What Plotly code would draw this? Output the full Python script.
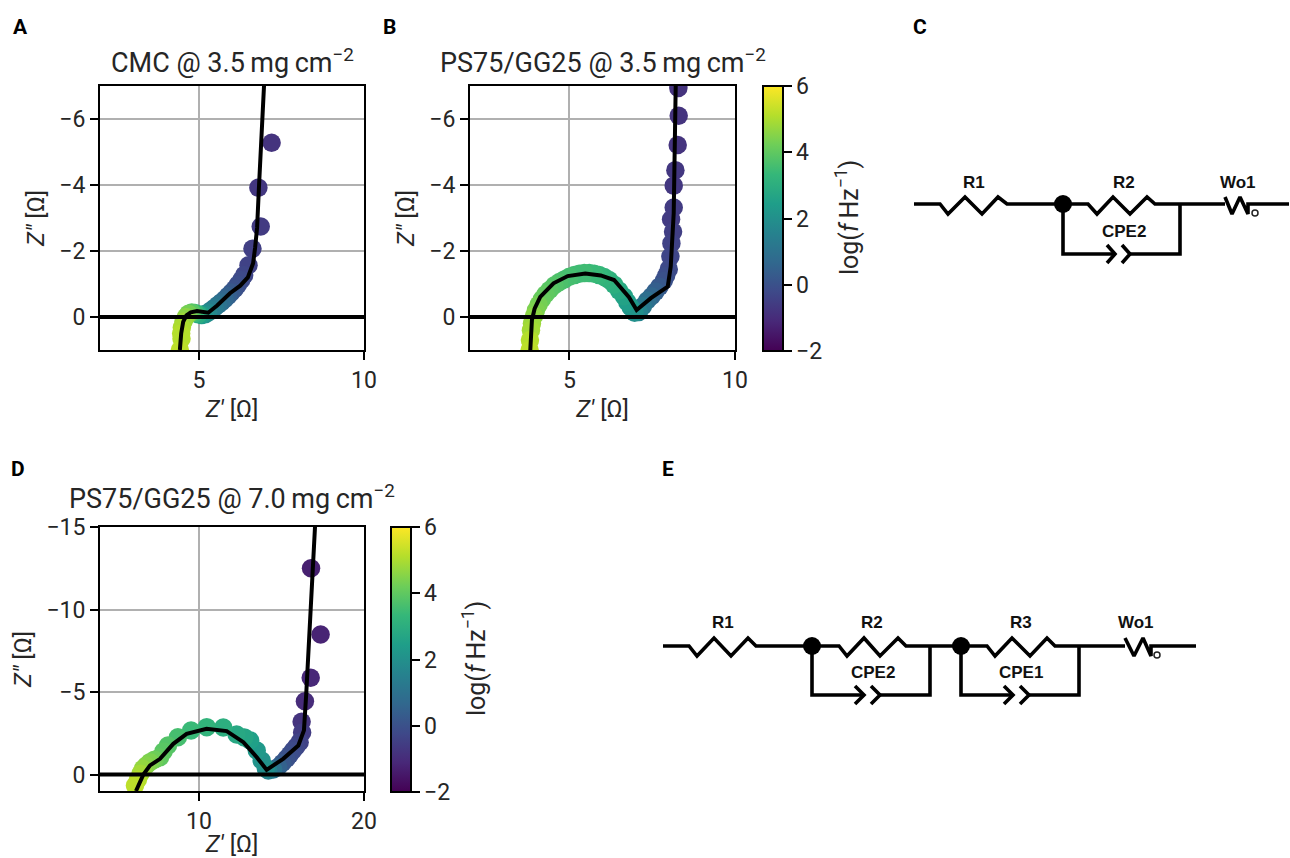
import plotly.graph_objects as go

# ---------- Panel A ----------
a_x = [7.20, 6.80, 6.87, 6.62, 6.50, 6.37, 6.28, 6.18, 6.08, 5.98, 5.88, 5.78, 5.68, 5.58, 5.48, 5.38, 5.28, 5.18, 5.08, 4.98, 4.88, 4.78, 4.68, 4.60, 4.53, 4.48, 4.46, 4.47, 4.42]
a_y = [-5.28, -3.92, -2.74, -2.07, -1.57, -1.27, -1.12, -0.98, -0.85, -0.74, -0.64, -0.54, -0.45, -0.37, -0.29, -0.21, -0.14, -0.08, -0.06, -0.08, -0.12, -0.14, -0.10, 0.00, 0.14, 0.32, 0.50, 0.66, 1.00]
a_c = [-0.8, -0.7, -0.6, -0.5, -0.4, -0.3, -0.2, -0.1, 0.0, 0.2, 0.4, 0.6, 0.8, 1.0, 1.2, 1.4, 1.7, 2.0, 2.4, 2.9, 3.4, 3.9, 4.3, 4.6, 4.8, 5.0, 5.1, 5.1, 5.2]
a_fit_x = [4.42, 4.46, 4.52, 4.62, 4.75, 4.94, 5.28, 5.55, 5.94, 6.25, 6.48, 6.64, 6.70, 6.76, 6.82, 6.97]
a_fit_y = [1.00, 0.50, 0.15, -0.05, -0.14, -0.18, -0.13, -0.35, -0.72, -0.95, -1.20, -1.63, -2.10, -2.70, -4.00, -7.00]

# ---------- Panel B ----------
b_x = [8.29, 8.30, 8.27, 8.20, 8.15, 8.15, 8.07, 8.13, 8.08, 8.05, 8.00, 7.92, 7.85, 7.72, 7.60, 7.48, 7.35, 7.22, 7.10, 6.97, 6.85, 6.75, 6.65, 6.50, 6.35, 6.20, 6.05, 5.90, 5.75, 5.60, 5.45, 5.30, 5.15, 5.00, 4.85, 4.70, 4.55, 4.40, 4.28, 4.17, 4.07, 3.99, 3.93, 3.87, 3.84, 3.81, 3.80]
b_y = [-6.94, -6.10, -5.21, -4.45, -3.98, -3.32, -2.96, -2.58, -2.23, -1.83, -1.45, -1.25, -1.10, -0.92, -0.77, -0.63, -0.50, -0.33, -0.15, -0.13, -0.30, -0.45, -0.62, -0.80, -0.98, -1.12, -1.21, -1.27, -1.31, -1.33, -1.33, -1.31, -1.27, -1.22, -1.14, -1.06, -0.96, -0.82, -0.69, -0.54, -0.37, -0.20, -0.03, 0.20, 0.40, 0.70, 1.00]
b_c = [-0.8, -0.8, -0.8, -0.7, -0.7, -0.6, -0.6, -0.5, -0.4, -0.3, -0.2, -0.1, 0.0, 0.2, 0.4, 0.6, 0.9, 1.2, 1.6, 2.0, 2.2, 2.4, 2.6, 2.8, 3.0, 3.1, 3.2, 3.3, 3.4, 3.4, 3.5, 3.5, 3.5, 3.6, 3.6, 3.7, 3.8, 3.9, 4.0, 4.1, 4.3, 4.4, 4.6, 4.8, 4.9, 5.1, 5.2]
b_fit_x = [3.82, 3.84, 3.87, 3.95, 4.12, 4.52, 4.95, 5.48, 5.95, 6.35, 6.80, 7.03, 7.46, 7.97, 8.06, 8.15, 8.21]
b_fit_y = [1.00, 0.50, 0.09, -0.25, -0.61, -1.02, -1.24, -1.32, -1.26, -1.12, -0.60, -0.21, -0.57, -0.92, -1.53, -3.15, -7.00]

# ---------- Panel D ----------
d_x = [16.79, 17.37, 16.77, 16.42, 16.22, 16.25, 16.10, 15.90, 15.70, 15.50, 15.30, 15.05, 14.80, 14.50, 14.20, 14.05, 13.80, 13.50, 13.10, 12.75, 12.28, 11.47, 10.47, 9.52, 8.72, 8.12, 7.85, 7.64, 7.30, 7.03, 6.80, 6.60, 6.45, 6.30, 6.12]
d_y = [-12.50, -8.48, -5.86, -4.44, -3.20, -2.55, -1.96, -1.70, -1.45, -1.20, -0.96, -0.70, -0.45, -0.30, -0.24, -0.36, -0.85, -1.45, -2.06, -2.25, -2.42, -2.85, -2.87, -2.67, -2.26, -1.76, -1.40, -1.05, -0.90, -0.75, -0.55, -0.35, -0.05, 0.30, 0.67]
d_c = [-1.3, -1.2, -1.1, -1.0, -0.8, -0.6, -0.4, -0.3, -0.2, -0.1, 0.0, 0.2, 0.5, 1.0, 1.5, 1.9, 2.1, 2.3, 2.5, 2.7, 2.8, 3.0, 3.2, 3.4, 3.6, 3.8, 3.9, 4.0, 4.2, 4.4, 4.5, 4.7, 4.9, 5.1, 5.2]
d_fit_x = [6.18, 6.63, 7.03, 7.64, 8.44, 9.25, 10.46, 11.68, 12.69, 13.50, 14.10, 15.10, 16.02, 16.36, 16.50, 16.83, 17.03]
d_fit_y = [1.00, 0.00, -0.55, -0.95, -1.86, -2.46, -2.77, -2.63, -1.96, -1.05, -0.28, -0.95, -1.76, -2.67, -4.90, -11.60, -15.00]

# ---------- Ticks and text ----------
z_ticks_ab = [-6, -4, -2, 0]
z_ticks_d = [-15, -10, -5, 0]
cbar_ticks = [-2, 0, 2, 4, 6]
titles = ["CMC @ 3.5\u2009mg\u2009cm<sup>−2</sup>", "PS75/GG25 @ 3.5\u2009mg\u2009cm<sup>−2</sup>", "PS75/GG25 @ 7.0\u2009mg\u2009cm<sup>−2</sup>"]
x_title = "<i>Z′</i> [Ω]"
y_title = "<i>Z″</i> [Ω]"
cbar_title = "log(<i>f</i>\u2009Hz<sup>−1</sup>)"

# ---------- Circuit diagrams (page pixels) ----------
c_paths = [
    ([914, 940, 948, 965, 982, 998, 1007, 1088, 1097, 1113, 1130, 1147, 1155, 1225], [204, 204, 214, 197, 214, 197, 204, 204, 214, 197, 214, 197, 204, 204]),
    ([1225, 1232, 1240, 1248, 1248, 1289], [197, 214, 197, 214, 204, 204]),
    ([1063, 1063, 1115], [204, 254, 254]),
    ([1107, 1115, 1107], [245, 254, 263]),
    ([1122, 1130, 1122], [245, 254, 263]),
    ([1130, 1180, 1180], [254, 254, 204]),
]
c_dots = ([1063], [204])
c_wo = ([1255], [213])
c_text = [("R1", 974, 182), ("R2", 1124, 182), ("Wo1", 1238, 182), ("CPE2", 1124, 232)]

e_paths = [
    ([663, 689, 697, 714, 731, 748, 756, 839, 847, 864, 880, 898, 906, 987, 995, 1012, 1030, 1047, 1055, 1125], [646, 646, 656, 638, 656, 638, 646, 646, 656, 638, 656, 638, 646, 646, 656, 638, 656, 638, 646, 646]),
    ([1125, 1134, 1143, 1151, 1151, 1196], [638, 656, 638, 656, 646, 646]),
    ([812, 812, 864], [646, 695, 695]),
    ([855, 864, 855], [686, 695, 704]),
    ([871, 880, 871], [686, 695, 704]),
    ([880, 930, 930], [695, 695, 646]),
    ([961, 961, 1013], [646, 695, 695]),
    ([1004, 1013, 1004], [686, 695, 704]),
    ([1020, 1029, 1020], [686, 695, 704]),
    ([1029, 1079, 1079], [695, 695, 646]),
]
e_dots = ([812, 961], [646, 646])
e_wo = ([1157], [655])
e_text = [("R1", 723, 622), ("R2", 872, 622), ("R3", 1021, 622), ("Wo1", 1136, 622), ("CPE2", 873, 672), ("CPE1", 1021, 672)]

panel_letters = [("A", 20, 27), ("B", 389, 27), ("C", 920, 27), ("D", 18, 469), ("E", 668, 469)]

# ---------- Layout helpers ----------
W, H = 1290, 858
def fx(p): return p / W
def fy(p): return 1 - p / H

FONT = "Roboto"
TEXT = "#262626"
TICK = 23

def cbar(x0, y0, y1):
    return dict(x=fx(x0), xanchor="left", xref="paper", y=fy(y0), yanchor="top", yref="paper",
                len=y1 - y0, lenmode="pixels", thickness=20, thicknessmode="pixels",
                tickvals=cbar_ticks, ticks="outside", ticklen=8, tickwidth=2, tickcolor="black",
                outlinecolor="black", outlinewidth=2,
                tickfont=dict(family=FONT, size=TICK, color=TEXT), xpad=0, ypad=0)

fig = go.Figure()

def panel(idx, xd, yd, xr, yr, xt, yt, mx, my, mc, fx_, fy_, cb, x_standoff=8):
    s = "" if idx == 1 else str(idx)
    fig.add_trace(go.Scatter(x=mx, y=my, mode="markers", xaxis="x" + s, yaxis="y" + s, showlegend=False,
                             marker=dict(size=18.5, color=mc, colorscale="Viridis", cmin=-2, cmax=6,
                                         line=dict(width=0), showscale=cb is not None, colorbar=cb)))
    fig.add_trace(go.Scatter(x=fx_, y=fy_, mode="lines", xaxis="x" + s, yaxis="y" + s, showlegend=False,
                             line=dict(color="black", width=4)))
    common = dict(showline=True, mirror=True, linecolor="black", linewidth=2, ticks="outside", ticklen=8,
                  tickwidth=2, tickcolor="black", showgrid=True, gridcolor="#b0b0b0", gridwidth=2,
                  zeroline=False, tickfont=dict(family=FONT, size=TICK, color=TEXT), layer="below traces")
    fig.update_layout({
        "xaxis" + s: dict(domain=[fx(xd[0]), fx(xd[1])], range=xr, tickvals=xt, anchor="y" + s,
                          title=dict(text=x_title, standoff=x_standoff, font=dict(family=FONT, size=24, color=TEXT)), **common),
        "yaxis" + s: dict(domain=[fy(yd[1]), fy(yd[0])], range=yr, tickvals=yt, anchor="x" + s,
                          title=dict(text=y_title, standoff=8, font=dict(family=FONT, size=24, color=TEXT)), **common),
    })
    fig.add_shape(type="line", xref="x" + s + " domain", yref="y" + s, x0=0, x1=1, y0=0, y1=0,
                  line=dict(color="black", width=4), layer="above")

panel(1, (100, 364), (86, 350), [2, 10], [1, -7], [5, 10], z_ticks_ab, a_x, a_y, a_c, a_fit_x, a_fit_y, None)
panel(2, (470, 735), (86, 350), [2, 10], [1, -7], [5, 10], z_ticks_ab, b_x, b_y, b_c, b_fit_x, b_fit_y, cbar(763, 86, 351))
panel(3, (100, 364), (527, 791), [4, 20], [1, -15], [10, 20], z_ticks_d, d_x, d_y, d_c, d_fit_x, d_fit_y, cbar(391, 527, 792), x_standoff=11)

# overlay axis in page pixels for diagrams and free text
def circuit(paths, dots, wo):
    for px, py in paths:
        fig.add_trace(go.Scatter(x=px, y=py, mode="lines", xaxis="x4", yaxis="y4", showlegend=False,
                                 line=dict(color="black", width=3.6), hoverinfo="skip"))
    fig.add_trace(go.Scatter(x=dots[0], y=dots[1], mode="markers", xaxis="x4", yaxis="y4", showlegend=False,
                             marker=dict(size=18, color="black"), hoverinfo="skip"))
    fig.add_trace(go.Scatter(x=wo[0], y=wo[1], mode="markers", xaxis="x4", yaxis="y4", showlegend=False,
                             marker=dict(size=6, color="white", line=dict(color="#222222", width=1.5)), hoverinfo="skip"))

circuit(c_paths, c_dots, c_wo)
circuit(e_paths, e_dots, e_wo)

hidden = dict(visible=False, showgrid=False, zeroline=False, fixedrange=True)
fig.update_layout(
    xaxis4=dict(domain=[0, 1], range=[0, W], anchor="y4", **hidden),
    yaxis4=dict(domain=[0, 1], range=[H, 0], anchor="x4", **hidden),
)

ann = []
def note(text, x, y, size, family=FONT, bold=False, angle=0, color=TEXT):
    ann.append(dict(text=f"<b>{text}</b>" if bold else text, x=fx(x), y=fy(y), xref="paper", yref="paper",
                    showarrow=False, xanchor="center", yanchor="middle", textangle=angle,
                    font=dict(family=family, size=size, color=color)))

note(titles[0], 232, 61, 27)
note(titles[1], 603, 61, 27)
note(titles[2], 232, 497, 27)
note(cbar_title, 848, 218, 25, angle=-90)
note(cbar_title, 474, 659, 25, angle=-90)
for t, x, y in panel_letters:
    note(t, x, y, 21, family="Roboto", bold=True, color="black")
for t, x, y in c_text + e_text:
    note(t, x, y, 17, family="Liberation Sans", bold=True, color="#111111")

fig.update_layout(width=W, height=H, margin=dict(l=0, r=0, t=0, b=0, autoexpand=False), paper_bgcolor="white",
                  plot_bgcolor="rgba(0,0,0,0)", showlegend=False, annotations=ann, font=dict(family=FONT, color=TEXT))

fig.write_html("out.html", config={"displayModeBar": False},
               post_script="document.documentElement.style.overflow='hidden';document.body.style.margin='0';")
